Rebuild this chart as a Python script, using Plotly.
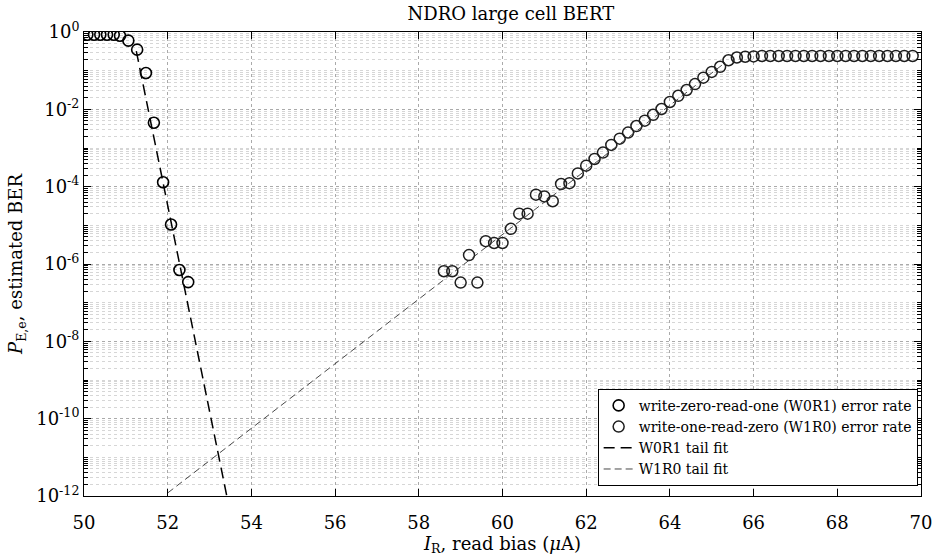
import plotly.graph_objects as go
import numpy as np

# ---- data ----
w0r1_x = [50.08, 50.24, 50.39, 50.55, 50.71, 50.86, 51.06, 51.27, 51.48, 51.67, 51.89, 52.08, 52.28, 52.49]
w0r1_y = [0.85, 0.85, 0.85, 0.85, 0.85, 0.80, 0.60, 0.35, 0.087, 0.0045, 1.3e-4, 1.05e-5, 7e-7, 3.4e-7]

w1r0_x = [58.6, 58.8, 59.0, 59.2, 59.4, 59.6, 59.8, 60.0, 60.2, 60.4,
          60.6, 60.8, 61.0, 61.2, 61.4, 61.6, 61.8, 62.0, 62.2, 62.4,
          62.6, 62.8, 63.0, 63.2, 63.4, 63.6, 63.8, 64.0, 64.2, 64.4,
          64.6, 64.8, 65.0, 65.2, 65.4, 65.6, 65.8, 66.0, 66.2, 66.4,
          66.6, 66.8, 67.0, 67.2, 67.4, 67.6, 67.8, 68.0, 68.2, 68.4,
          68.6, 68.8, 69.0, 69.2, 69.4, 69.6, 69.8]
w1r0_y = [6.5e-7, 6.5e-7, 3.3e-7, 1.7e-6, 3.3e-7, 3.9e-6, 3.5e-6, 3.5e-6, 8.1e-6, 2.0e-5,
          2.0e-5, 6.2e-5, 5.6e-5, 4.2e-5, 1.17e-4, 1.23e-4, 2.2e-4, 3.5e-4, 5.2e-4, 7.6e-4,
          1.2e-3, 1.74e-3, 2.5e-3, 3.7e-3, 5.1e-3, 7.2e-3, 1.02e-2, 1.55e-2, 2.24e-2, 3.16e-2,
          4.5e-2, 6.6e-2, 9.3e-2, 0.126, 0.186, 0.219, 0.229, 0.234, 0.24, 0.24,
          0.24, 0.24, 0.24, 0.24, 0.24, 0.24, 0.24, 0.24, 0.24, 0.24,
          0.24, 0.24, 0.24, 0.24, 0.24, 0.24, 0.24]

fit0_x = [51.25, 52.46, 53.45]
fit0_y = [0.32, 1.2e-7, 6.3e-13]

fit1_x = [52.0, 65.3]
fit1_y = [1.2e-12, 0.155]

xtick_vals = [50, 52, 54, 56, 58, 60, 62, 64, 66, 68, 70]
ytick_exps = [0, -2, -4, -6, -8, -10, -12]

FONT = "DejaVu Serif"

fig = go.Figure()
fig.add_trace(go.Scatter(
    x=w0r1_x, y=w0r1_y, mode="markers",
    name="write-zero-read-one (W0R1) error rate",
    marker=dict(symbol="circle-open", size=11, color="black", line=dict(width=1.6, color="black"))))
fig.add_trace(go.Scatter(
    x=w1r0_x, y=w1r0_y, mode="markers",
    name="write-one-read-zero (W1R0) error rate",
    marker=dict(symbol="circle-open", size=11, color="#1e1e1e", line=dict(width=1.5, color="#1e1e1e"))))
fig.add_trace(go.Scatter(
    x=fit0_x, y=fit0_y, mode="lines", name="W0R1 tail fit",
    line=dict(color="black", width=1.5, dash="11px,6px")))
fig.add_trace(go.Scatter(
    x=fit1_x, y=fit1_y, mode="lines", name="W1R0 tail fit",
    line=dict(color="#333333", width=0.9, dash="7px,4px")))

minor_y = []
for k in range(-12, 1):
    for d in range(1, 10):
        v = d * 10.0 ** k
        if v <= 1.0 and not (d == 1 and k % 2 == 0):
            minor_y.append(v)

fig.update_layout(
    width=943, height=560,
    margin=dict(l=84, r=11, t=32, b=62),
    paper_bgcolor="white", plot_bgcolor="white",
    font=dict(family=FONT, size=18, color="black"),
    title=dict(text="NDRO large cell BERT", x=0.51, xref="paper", xanchor="center",
               y=1 - 14 / 560, yref="container", yanchor="middle",
               font=dict(family=FONT, size=18, color="black")),
    showlegend=True,
    legend=dict(x=0.996, y=0.022, xanchor="right", yanchor="bottom",
                bgcolor="white", bordercolor="black", borderwidth=1,
                font=dict(family=FONT, size=14, color="black"),
                tracegroupgap=0, itemwidth=30),
)

fig.update_xaxes(
    range=[50, 70], tickmode="array", tickvals=xtick_vals,
    ticktext=[str(v) for v in xtick_vals],
    ticks="inside", ticklen=7, tickwidth=1, tickcolor="black",
    showline=True, linecolor="black", linewidth=1, mirror="ticks",
    showgrid=True, gridcolor="#aaaaaa", griddash="dot", gridwidth=1,
    zeroline=False, ticklabelstandoff=10,
    title=dict(text="<i>I</i><sub>R</sub>, read bias (<i>μ</i>A)", standoff=4,
               font=dict(family=FONT, size=18)),
    tickfont=dict(family=FONT, size=18),
)

fig.update_yaxes(
    type="log", range=[-12, 0],
    tickmode="array", tickvals=[10.0 ** e for e in ytick_exps],
    ticktext=["10<sup>%d</sup>" % e for e in ytick_exps],
    ticks="inside", ticklen=7, tickwidth=1, tickcolor="black",
    showline=True, linecolor="black", linewidth=1, mirror="ticks",
    showgrid=True, gridcolor="#aaaaaa", griddash="dot", gridwidth=1,
    zeroline=False,
    minor=dict(tickmode="array", tickvals=minor_y, ticks="inside", ticklen=4,
               tickcolor="black", showgrid=True, gridcolor="#d6d6d6", griddash="dot", gridwidth=1),
    title=dict(text="<i>P</i><sub>E,e</sub>, estimated BER", standoff=8,
               font=dict(family=FONT, size=18)),
    tickfont=dict(family=FONT, size=18),
)

fig.write_html("out.html")
